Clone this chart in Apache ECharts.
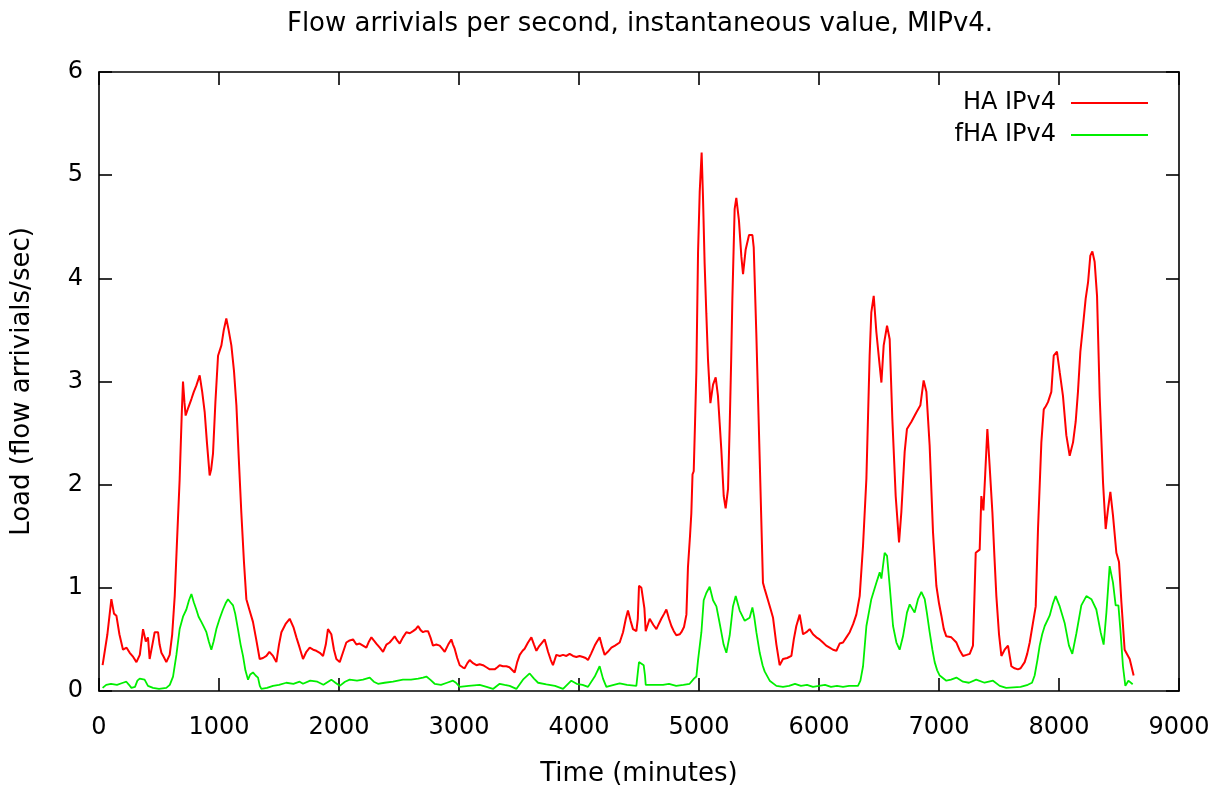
<!DOCTYPE html>
<html>
<head>
<meta charset="utf-8">
<title>Flow arrivials per second, MIPv4</title>
<script src="https://cdn.jsdelivr.net/npm/echarts@6/dist/echarts.min.js"></script>
<style>
  html, body { margin: 0; padding: 0; background: #fff; }
  #chart { width: 1226px; height: 792px; }
</style>
</head>
<body>
<div id="chart"></div>
<script>
// Time axis (minutes) and load (flow arrivals/sec) samples for each series.
const haTime = [
  30, 70, 103, 125, 145, 170, 200, 230, 256, 285, 312, 340, 367, 390, 408, 422, 445, 464, 492, 505,
  520, 540, 561, 589, 610, 631, 650, 672, 690, 700, 712, 722, 745, 770, 790, 811, 839, 860, 881, 900,
  922, 935, 950, 970, 992, 1020, 1040, 1061, 1080, 1103, 1125, 1145, 1165, 1186, 1208, 1228, 1255, 1283, 1310, 1339,
  1367, 1395, 1420, 1450, 1478, 1500, 1520, 1555, 1589, 1620, 1645, 1672, 1700, 1728, 1756, 1785, 1811, 1840, 1867, 1890,
  1908, 1936, 1958, 1978, 2006, 2035, 2061, 2089, 2117, 2145, 2172, 2200, 2228, 2250, 2270, 2290, 2311, 2340, 2367, 2395,
  2422, 2444, 2464, 2485, 2506, 2533, 2561, 2590, 2617, 2640, 2659, 2680, 2700, 2720, 2742, 2762, 2783, 2811, 2839, 2860,
  2881, 2910, 2936, 2950, 2964, 2985, 3006, 3030, 3047, 3070, 3089, 3117, 3145, 3172, 3200, 3228, 3256, 3280, 3297, 3320,
  3339, 3367, 3395, 3420, 3436, 3464, 3485, 3506, 3530, 3547, 3575, 3603, 3625, 3645, 3665, 3686, 3714, 3742, 3765, 3783,
  3811, 3840, 3867, 3895, 3922, 3950, 3978, 4005, 4033, 4055, 4075, 4100, 4131, 4150, 4172, 4195, 4214, 4240, 4270, 4300,
  4339, 4367, 4390, 4408, 4430, 4450, 4478, 4490, 4500, 4520, 4533, 4545, 4556, 4575, 4589, 4620, 4645, 4665, 4686, 4710,
  4728, 4750, 4770, 4790, 4811, 4839, 4853, 4875, 4895, 4908, 4925, 4936, 4946, 4956, 4967, 4978, 4992, 5006, 5022, 5033,
  5047, 5061, 5075, 5095, 5117, 5139, 5158, 5172, 5186, 5206, 5222, 5242, 5256, 5268, 5278, 5297, 5311, 5333, 5353, 5367,
  5389, 5417, 5445, 5456, 5478, 5506, 5533, 5547, 5575, 5600, 5617, 5645, 5672, 5700, 5735, 5770, 5790, 5811, 5839, 5867,
  5895, 5922, 5950, 5978, 6005, 6033, 6060, 6089, 6117, 6145, 6172, 6200, 6228, 6256, 6285, 6311, 6339, 6367, 6395, 6422,
  6436, 6456, 6478, 6500, 6520, 6539, 6567, 6589, 6611, 6639, 6667, 6686, 6714, 6733, 6770, 6811, 6845, 6872, 6895, 6922,
  6950, 6978, 7000, 7020, 7040, 7061, 7103, 7145, 7170, 7200, 7230, 7256, 7283, 7295, 7306, 7339, 7353, 7370, 7385, 7403,
  7422, 7445, 7462, 7478, 7500, 7520, 7547, 7575, 7603, 7630, 7658, 7680, 7714, 7735, 7756, 7783, 7806, 7825, 7853, 7873,
  7890, 7908, 7936, 7956, 7983, 8006, 8033, 8061, 8089, 8117, 8139, 8158, 8178, 8200, 8222, 8242, 8261, 8278, 8297, 8317,
  8339, 8367, 8389, 8408, 8428, 8450, 8478, 8500, 8520, 8547, 8589, 8622
];
const haLoad = [
  0.25, 0.55, 0.89, 0.75, 0.73, 0.55, 0.40, 0.42, 0.37, 0.33, 0.28, 0.35, 0.60, 0.48, 0.52, 0.31, 0.45, 0.57, 0.57, 0.45,
  0.37, 0.33, 0.28, 0.35, 0.55, 0.92, 1.45, 2.05, 2.70, 3.00, 2.80, 2.67, 2.75, 2.83, 2.90, 2.96, 3.06, 2.90, 2.70, 2.40,
  2.09, 2.15, 2.30, 2.80, 3.25, 3.35, 3.50, 3.61, 3.50, 3.35, 3.10, 2.77, 2.25, 1.73, 1.25, 0.89, 0.78, 0.67, 0.50, 0.31,
  0.32, 0.34, 0.38, 0.34, 0.28, 0.45, 0.57, 0.65, 0.70, 0.62, 0.52, 0.42, 0.31, 0.38, 0.42, 0.40, 0.39, 0.37, 0.34, 0.45,
  0.60, 0.55, 0.40, 0.31, 0.28, 0.38, 0.47, 0.49, 0.50, 0.45, 0.46, 0.44, 0.42, 0.48, 0.52, 0.49, 0.46, 0.42, 0.38, 0.45,
  0.47, 0.50, 0.53, 0.49, 0.46, 0.52, 0.57, 0.56, 0.58, 0.60, 0.63, 0.59, 0.57, 0.58, 0.58, 0.52, 0.44, 0.45, 0.44, 0.41,
  0.38, 0.45, 0.50, 0.45, 0.41, 0.32, 0.25, 0.23, 0.22, 0.27, 0.30, 0.27, 0.25, 0.26, 0.25, 0.23, 0.21, 0.21, 0.21, 0.23,
  0.25, 0.24, 0.24, 0.23, 0.22, 0.18, 0.28, 0.35, 0.39, 0.41, 0.47, 0.52, 0.45, 0.39, 0.43, 0.46, 0.50, 0.38, 0.30, 0.25,
  0.35, 0.34, 0.35, 0.34, 0.36, 0.34, 0.33, 0.34, 0.33, 0.32, 0.30, 0.36, 0.44, 0.48, 0.52, 0.42, 0.35, 0.38, 0.42, 0.44,
  0.47, 0.57, 0.70, 0.78, 0.68, 0.60, 0.58, 0.70, 1.02, 1.00, 0.99, 0.80, 0.58, 0.65, 0.70, 0.64, 0.60, 0.65, 0.70, 0.75,
  0.79, 0.70, 0.63, 0.58, 0.54, 0.55, 0.57, 0.62, 0.74, 1.20, 1.50, 1.72, 2.10, 2.13, 2.60, 3.10, 4.25, 4.84, 5.22, 4.80,
  4.14, 3.66, 3.21, 2.79, 2.97, 3.04, 2.86, 2.60, 2.34, 1.89, 1.77, 1.96, 2.58, 3.20, 3.80, 4.67, 4.78, 4.56, 4.21, 4.04,
  4.28, 4.42, 4.42, 4.30, 3.45, 2.24, 1.05, 0.99, 0.88, 0.78, 0.71, 0.45, 0.25, 0.31, 0.32, 0.34, 0.50, 0.63, 0.74, 0.55,
  0.57, 0.60, 0.55, 0.52, 0.50, 0.47, 0.44, 0.42, 0.40, 0.39, 0.46, 0.47, 0.52, 0.57, 0.65, 0.74, 0.92, 1.41, 2.06, 3.25,
  3.67, 3.83, 3.48, 3.22, 2.99, 3.35, 3.54, 3.41, 2.64, 1.89, 1.44, 1.73, 2.32, 2.54, 2.61, 2.70, 2.77, 3.01, 2.90, 2.38,
  1.54, 1.02, 0.85, 0.73, 0.60, 0.53, 0.52, 0.47, 0.40, 0.34, 0.35, 0.36, 0.44, 0.90, 1.34, 1.37, 1.89, 1.75, 2.10, 2.54,
  2.18, 1.73, 1.30, 0.92, 0.55, 0.34, 0.40, 0.44, 0.24, 0.22, 0.21, 0.22, 0.28, 0.36, 0.47, 0.66, 0.82, 1.57, 2.41, 2.73,
  2.76, 2.80, 2.90, 3.25, 3.29, 3.09, 2.86, 2.48, 2.28, 2.41, 2.61, 2.90, 3.29, 3.54, 3.80, 3.96, 4.22, 4.26, 4.16, 3.83,
  2.86, 2.02, 1.57, 1.76, 1.93, 1.70, 1.34, 1.25, 0.86, 0.40, 0.31, 0.15
];

const fhaTime = [
  30, 60, 100, 150, 200, 228, 250, 270, 300, 320, 339, 380, 408, 450, 500, 561, 590, 617, 645, 672,
  700, 728, 750, 770, 790, 811, 830, 853, 875, 895, 915, 936, 955, 978, 1005, 1033, 1055, 1075, 1095, 1117,
  1135, 1158, 1180, 1200, 1220, 1242, 1260, 1283, 1305, 1325, 1340, 1353, 1400, 1450, 1500, 1561, 1620, 1672, 1700, 1760,
  1820, 1870, 1936, 1970, 2006, 2050, 2089, 2150, 2200, 2256, 2290, 2325, 2380, 2450, 2533, 2600, 2660, 2700, 2728, 2760,
  2797, 2850, 2900, 2950, 2975, 3006, 3080, 3172, 3230, 3283, 3339, 3380, 3422, 3478, 3533, 3589, 3625, 3659, 3728, 3800,
  3867, 3936, 3980, 4030, 4075, 4131, 4172, 4200, 4228, 4290, 4339, 4400, 4478, 4492, 4500, 4539, 4550, 4556, 4620, 4700,
  4750, 4810, 4870, 4922, 4958, 4978, 4992, 5020, 5039, 5061, 5089, 5117, 5145, 5165, 5186, 5205, 5228, 5256, 5283, 5306,
  5339, 5381, 5422, 5445, 5460, 5478, 5506, 5530, 5547, 5589, 5645, 5700, 5750, 5800, 5850, 5900, 5950, 6000, 6050, 6100,
  6150, 6200, 6250, 6300, 6325, 6345, 6367, 6395, 6436, 6478, 6506, 6520, 6547, 6567, 6589, 6617, 6645, 6672, 6700, 6733,
  6756, 6797, 6825, 6853, 6881, 6900, 6922, 6945, 6964, 6985, 7006, 7061, 7100, 7145, 7200, 7250, 7310, 7380, 7450, 7506,
  7560, 7620, 7680, 7740, 7775, 7797, 7820, 7839, 7860, 7881, 7922, 7950, 7972, 8006, 8047, 8083, 8111, 8145, 8186, 8228,
  8270, 8311, 8347, 8372, 8395, 8422, 8450, 8472, 8495, 8511, 8533, 8553, 8578, 8614
];
const fhaLoad = [
  0.03, 0.06, 0.07, 0.06, 0.08, 0.09, 0.06, 0.03, 0.04, 0.10, 0.12, 0.11, 0.05, 0.03, 0.02, 0.03, 0.06, 0.14, 0.35, 0.60,
  0.72, 0.79, 0.88, 0.94, 0.86, 0.79, 0.72, 0.67, 0.62, 0.57, 0.48, 0.40, 0.48, 0.60, 0.70, 0.79, 0.85, 0.89, 0.86, 0.83,
  0.75, 0.60, 0.45, 0.34, 0.20, 0.11, 0.16, 0.18, 0.15, 0.13, 0.05, 0.02, 0.03, 0.05, 0.06, 0.08, 0.07, 0.09, 0.07, 0.10,
  0.09, 0.06, 0.11, 0.08, 0.05, 0.09, 0.11, 0.10, 0.11, 0.13, 0.09, 0.07, 0.08, 0.09, 0.11, 0.11, 0.12, 0.13, 0.14, 0.11,
  0.07, 0.06, 0.08, 0.10, 0.08, 0.04, 0.05, 0.06, 0.04, 0.02, 0.07, 0.06, 0.05, 0.02, 0.11, 0.17, 0.12, 0.08, 0.065, 0.05,
  0.02, 0.10, 0.07, 0.06, 0.04, 0.14, 0.24, 0.12, 0.04, 0.06, 0.075, 0.06, 0.05, 0.20, 0.28, 0.25, 0.15, 0.06, 0.06, 0.06,
  0.07, 0.05, 0.06, 0.07, 0.12, 0.14, 0.30, 0.57, 0.88, 0.95, 1.01, 0.88, 0.82, 0.70, 0.57, 0.45, 0.37, 0.54, 0.82, 0.92,
  0.78, 0.68, 0.71, 0.81, 0.72, 0.57, 0.37, 0.25, 0.19, 0.10, 0.05, 0.04, 0.05, 0.07, 0.05, 0.06, 0.04, 0.05, 0.06, 0.04,
  0.05, 0.04, 0.05, 0.05, 0.05, 0.10, 0.24, 0.63, 0.89, 1.05, 1.15, 1.09, 1.34, 1.31, 1.02, 0.63, 0.47, 0.40, 0.53, 0.76,
  0.84, 0.76, 0.89, 0.96, 0.89, 0.75, 0.57, 0.40, 0.28, 0.20, 0.15, 0.10, 0.11, 0.13, 0.09, 0.08, 0.11, 0.08, 0.10, 0.05,
  0.03, 0.035, 0.04, 0.06, 0.08, 0.15, 0.30, 0.44, 0.55, 0.63, 0.73, 0.85, 0.92, 0.82, 0.66, 0.44, 0.36, 0.56, 0.83, 0.92,
  0.89, 0.79, 0.57, 0.45, 0.76, 1.21, 1.05, 0.83, 0.83, 0.60, 0.24, 0.05, 0.10, 0.065
];

const seriesNames = ['HA IPv4', 'fHA IPv4'];
const xTicks = { min: 0, max: 9000, step: 1000 };
const yTicks = { min: 0, max: 6, step: 1 };

const pair = (xs, ys) => xs.map((x, i) => [x, ys[i]]);

const FONT = 'DejaVu Sans';
const INK = '#000';

const tickLabel = { color: INK, fontFamily: FONT, fontSize: 24, formatter: (v) => String(v) };

// Every side of the frame is an axis line with inward ticks; only bottom/left carry labels.
function frameAxis(extra) {
  return Object.assign({
    type: 'value',
    axisLine: { show: true, onZero: false, lineStyle: { color: INK, width: 1.6 } },
    axisTick: { show: true, inside: true, length: 13, lineStyle: { color: INK, width: 1.6 } },
    splitLine: { show: false },
    axisLabel: { show: false }
  }, extra);
}

const chart = echarts.init(document.getElementById('chart'), null, { renderer: 'canvas' });

chart.setOption({
  backgroundColor: '#fff',
  animation: false,
  title: {
    text: 'Flow arrivials per second, instantaneous value, MIPv4.',
    left: 635,
    top: 6,
    textAlign: 'center',
    textStyle: { color: INK, fontFamily: FONT, fontSize: 26, fontWeight: 'normal' }
  },
  legend: {
    orient: 'vertical',
    right: 73,
    top: 86,
    align: 'right',
    itemGap: 8,
    itemWidth: 77,
    itemHeight: 2,
    icon: 'rect',
    textStyle: { color: INK, fontFamily: FONT, fontSize: 24, padding: [0, 10, 0, 0] },
    data: seriesNames
  },
  grid: { left: 99, right: 47, top: 72, bottom: 100, containLabel: false },
  xAxis: [
    frameAxis({
      position: 'bottom',
      min: xTicks.min, max: xTicks.max, interval: xTicks.step,
      name: 'Time (minutes)',
      nameLocation: 'middle',
      nameGap: 70,
      nameTextStyle: { color: INK, fontFamily: FONT, fontSize: 26 },
      axisLabel: Object.assign({ show: true, margin: 25 }, tickLabel)
    }),
    frameAxis({ position: 'top', min: xTicks.min, max: xTicks.max, interval: xTicks.step })
  ],
  yAxis: [
    frameAxis({
      position: 'left',
      min: yTicks.min, max: yTicks.max, interval: yTicks.step,
      name: 'Load (flow arrivials/sec)',
      nameLocation: 'middle',
      nameGap: 64,
      nameTextStyle: { color: INK, fontFamily: FONT, fontSize: 26 },
      axisLabel: Object.assign({ show: true, margin: 16 }, tickLabel)
    }),
    frameAxis({ position: 'right', min: yTicks.min, max: yTicks.max, interval: yTicks.step })
  ],
  series: [
    {
      name: seriesNames[0],
      type: 'line',
      xAxisIndex: 0, yAxisIndex: 0,
      data: pair(haTime, haLoad),
      showSymbol: false,
      symbol: 'none',
      color: '#ff0000',
      lineStyle: { color: '#ff0000', width: 2 },
      z: 3
    },
    {
      name: seriesNames[1],
      type: 'line',
      xAxisIndex: 0, yAxisIndex: 0,
      data: pair(fhaTime, fhaLoad),
      showSymbol: false,
      symbol: 'none',
      color: '#00ee00',
      lineStyle: { color: '#00ee00', width: 1.8 },
      z: 2
    }
  ]
});
</script>
</body>
</html>
